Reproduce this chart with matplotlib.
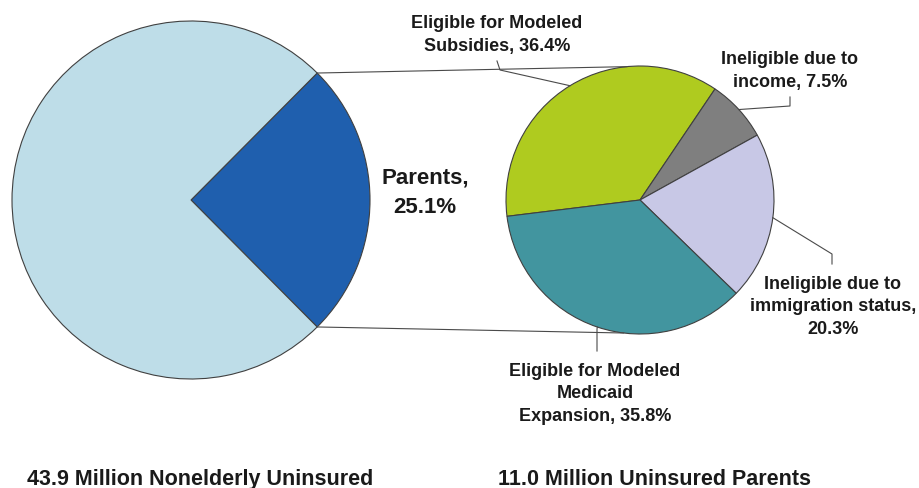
import numpy as np
from matplotlib import pyplot as plt

# data
big_labels = ['Parents', 'Other nonelderly uninsured']
big_values = [25.1, 74.9]
big_colors = ['#1f5fae', '#bedde8']

small_labels = ['Eligible for Modeled\nSubsidies, 36.4%',
                'Ineligible due to\nincome, 7.5%',
                'Ineligible due to\nimmigration status,\n20.3%',
                'Eligible for Modeled\nMedicaid\nExpansion, 35.8%']
small_values = [36.4, 7.5, 20.3, 35.8]
small_colors = ['#afcb1f', '#7f7f7f', '#c8c8e6', '#42959f']

titles = ['43.9 Million Nonelderly Uninsured', '11.0 Million Uninsured Parents']

W, H = 920, 489
fig = plt.figure(figsize=(W / 100, H / 100), dpi=100)
ax = fig.add_axes([0, 0, 1, 1])


def py(y):
    # pixel row -> data y
    return H - y


font = ['Liberation Sans', 'DejaVu Sans']
txt = '#1a1a1a'
line_c = '#4a4a4a'
edge = dict(edgecolor='#404040', linewidth=0.8)

# big pie
c1, r1 = (191, py(201)), 179
start1 = big_values[0] * 3.6 / 2
ax.pie(big_values, colors=big_colors, startangle=start1, counterclock=False,
       center=c1, radius=r1, wedgeprops=edge, frame=True)

# small pie
c2, r2 = (640, py(201)), 134
start2 = 187
ax.pie(small_values, colors=small_colors, startangle=start2, counterclock=False,
       center=c2, radius=r2, wedgeprops=edge, frame=True)
ax.set_xlim(0, W)
ax.set_ylim(0, H)
ax.set_aspect('equal')
ax.axis('off')


def on_circle(c, r, deg):
    a = np.radians(deg)
    return c[0] + r * np.cos(a), c[1] + r * np.sin(a)


# connector lines between the pies
for a_big, a_small in [(start1, 95.6), (-start1, -97)]:
    p = on_circle(c1, r1, a_big)
    q = on_circle(c2, r2, a_small)
    ax.plot([p[0], q[0]], [p[1], q[1]], color=line_c, lw=0.8)

ax.text(425, py(193), 'Parents,\n25.1%', ha='center', va='center', color=txt,
        fontsize=16, fontweight='bold', family=font, linespacing=1.55)

# slice mid angles
bounds = start2 - np.cumsum([0] + small_values) * 3.6
mids = (bounds[:-1] + bounds[1:]) / 2

# leader lines: (elbow, end) in pixels, label position
leaders = [
    ((500, 71), (497, 62), (497, 35)),
    ((790, 107), (790, 98), (790, 71)),
    ((832, 255), (832, 265), (833, 307)),
    ((597, 330), (597, 352), (595, 394)),
]
for mid, lab, (el, en, tp) in zip(mids, small_labels, leaders):
    p = on_circle(c2, r2, mid)
    ax.plot([p[0], el[0], en[0]], [p[1], py(el[1]), py(en[1])],
            color=line_c, lw=0.8)
    ax.text(tp[0], py(tp[1]), lab, ha='center', va='center', fontsize=13,
            fontweight='bold', family=font, linespacing=1.45, color=txt)

ax.text(200, py(480), titles[0], ha='center', va='center', fontsize=15.5,
        fontweight='bold', family=font, color=txt)
ax.text(655, py(480), titles[1], ha='center', va='center', fontsize=15.5,
        fontweight='bold', family=font, color=txt)

fig.savefig('out.png', dpi=100)
